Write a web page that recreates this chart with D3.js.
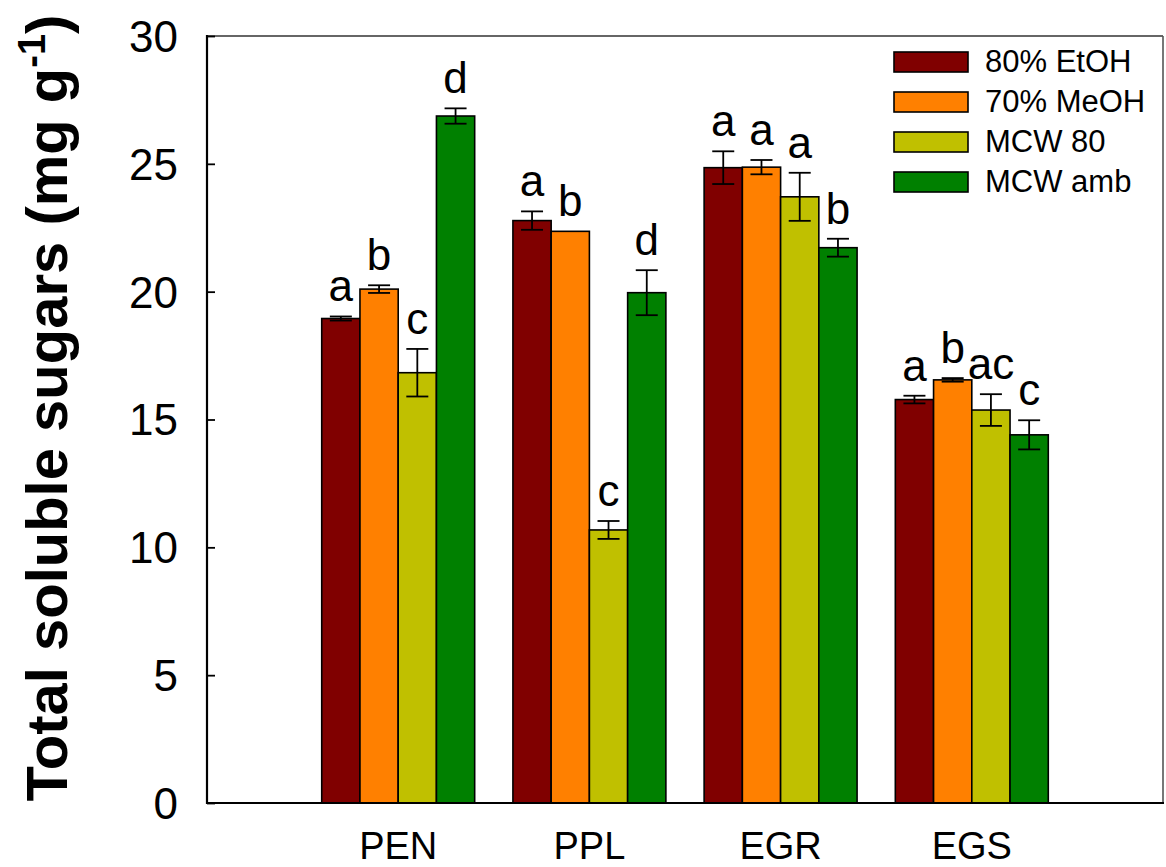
<!DOCTYPE html>
<html>
<head>
<meta charset="utf-8">
<script src="https://cdn.jsdelivr.net/npm/d3@7"></script>
<style>
  html, body { margin: 0; padding: 0; background: #fff; }
  svg { display: block; font-family: "Liberation Sans", Arial, sans-serif; }
</style>
</head>
<body>
<svg id="chart" width="1166" height="867"></svg>
<script>
// Sample sites along the x axis
const categories = ["PEN", "PPL", "EGR", "EGS"];
// Extraction methods (one bar per method within each site)
const methods = ["80% EtOH", "70% MeOH", "MCW 80", "MCW amb"];
const methodColors = ["#800000", "#FF8000", "#C0C000", "#008000"];

// Mean total soluble sugars (mg g-1), one array per method, ordered by site
const etoh80 = [18.95, 22.78, 24.85, 15.78];
const meoh70 = [20.10, 22.36, 24.87, 16.55];
const mcw80  = [16.83, 10.68, 23.71, 15.37];
const mcwAmb = [26.87, 19.96, 21.72, 14.40];
// Standard errors
const etoh80Err = [0.08, 0.36, 0.64, 0.15];
const meoh70Err = [0.15, 0.00, 0.28, 0.07];
const mcw80Err  = [0.93, 0.35, 0.94, 0.62];
const mcwAmbErr = [0.30, 0.88, 0.35, 0.57];
// Significance letters
const etoh80Sig = ["a", "a", "a", "a"];
const meoh70Sig = ["b", "b", "a", "b"];
const mcw80Sig  = ["c", "c", "a", "ac"];
const mcwAmbSig = ["d", "d", "b", "c"];

const yTicks = [0, 5, 10, 15, 20, 25, 30];

const seriesValues = [etoh80, meoh70, mcw80, mcwAmb];
const seriesErrors = [etoh80Err, meoh70Err, mcw80Err, mcwAmbErr];
const seriesSig = [etoh80Sig, meoh70Sig, mcw80Sig, mcwAmbSig];

const svg = d3.select("#chart");
const plot = { left: 207, right: 1163, top: 36, bottom: 803 };

// Sites sit at positions 1..4 of a 0..5 axis
const x = d3.scaleLinear().domain([0, categories.length + 1]).range([plot.left, plot.right]);
const y = d3.scaleLinear().domain([0, 30]).range([plot.bottom, plot.top]);
const groupWidth = (x(1) - x(0)) * 0.8;
const inner = d3.scaleBand().domain(d3.range(methods.length)).range([-groupWidth / 2, groupWidth / 2]).padding(0);

// Bars
const rows = [];
categories.forEach((c, i) => {
  methods.forEach((m, j) => {
    rows.push({ cat: i, method: j, value: seriesValues[j][i], err: seriesErrors[j][i], sig: seriesSig[j][i] });
  });
});

const g = svg.append("g");
g.selectAll("rect.bar").data(rows).enter().append("rect")
  .attr("class", "bar")
  .attr("x", d => x(d.cat + 1) + inner(d.method))
  .attr("width", inner.bandwidth())
  .attr("y", d => y(d.value))
  .attr("height", d => y(0) - y(d.value))
  .attr("fill", d => methodColors[d.method])
  .attr("stroke", "#000")
  .attr("stroke-width", 1.6);

// Error bars
const capHalf = 11;
const eb = g.selectAll("g.err").data(rows.filter(d => d.err > 0)).enter().append("g").attr("class", "err")
  .attr("stroke", "#000").attr("stroke-width", 1.8);
eb.append("line")
  .attr("x1", d => x(d.cat + 1) + inner(d.method) + inner.bandwidth() / 2)
  .attr("x2", d => x(d.cat + 1) + inner(d.method) + inner.bandwidth() / 2)
  .attr("y1", d => y(d.value + d.err)).attr("y2", d => y(d.value - d.err));
eb.append("line")
  .attr("x1", d => x(d.cat + 1) + inner(d.method) + inner.bandwidth() / 2 - capHalf)
  .attr("x2", d => x(d.cat + 1) + inner(d.method) + inner.bandwidth() / 2 + capHalf)
  .attr("y1", d => y(d.value + d.err)).attr("y2", d => y(d.value + d.err));
eb.append("line")
  .attr("x1", d => x(d.cat + 1) + inner(d.method) + inner.bandwidth() / 2 - capHalf)
  .attr("x2", d => x(d.cat + 1) + inner(d.method) + inner.bandwidth() / 2 + capHalf)
  .attr("y1", d => y(d.value - d.err)).attr("y2", d => y(d.value - d.err));

// Significance letters
g.selectAll("text.sig").data(rows).enter().append("text")
  .attr("class", "sig")
  .attr("x", d => x(d.cat + 1) + inner(d.method) + inner.bandwidth() / 2)
  .attr("y", d => y(d.value + d.err) - 15)
  .attr("text-anchor", "middle")
  .attr("font-size", 44)
  .attr("fill", "#000")
  .text(d => d.sig);

// Frame
svg.append("line").attr("x1", plot.left).attr("x2", plot.right).attr("y1", plot.top).attr("y2", plot.top)
  .attr("stroke", "#333").attr("stroke-width", 1.6);
svg.append("line").attr("x1", plot.right).attr("x2", plot.right).attr("y1", plot.top).attr("y2", plot.bottom)
  .attr("stroke", "#555").attr("stroke-width", 1.6);

// Y axis with inward ticks
const yAxis = d3.axisRight(y).tickValues(yTicks).tickSize(8).tickFormat("");
const ya = svg.append("g").attr("transform", `translate(${plot.left},0)`).call(yAxis);
ya.select(".domain").remove();
ya.selectAll(".tick line").attr("stroke", "#000").attr("stroke-width", 1.8);
svg.append("line").attr("x1", plot.left).attr("x2", plot.left).attr("y1", plot.top - 1).attr("y2", plot.bottom + 1)
  .attr("stroke", "#000").attr("stroke-width", 2.2);
svg.append("g").selectAll("text").data(yTicks).enter().append("text")
  .attr("x", 178).attr("y", d => y(d)).attr("dy", "0.36em")
  .attr("text-anchor", "end").attr("font-size", 44).attr("fill", "#000")
  .text(d => d);

// X axis baseline and category labels
svg.append("line").attr("x1", plot.left - 1).attr("x2", plot.right + 1).attr("y1", plot.bottom).attr("y2", plot.bottom)
  .attr("stroke", "#000").attr("stroke-width", 2.2);
svg.append("g").selectAll("text").data(categories).enter().append("text")
  .attr("x", (d, i) => x(i + 1)).attr("y", 859)
  .attr("text-anchor", "middle").attr("font-size", 38).attr("fill", "#000")
  .text(d => d);

// Y axis title
const title = svg.append("text")
  .attr("transform", "translate(67,408) rotate(-90)")
  .attr("text-anchor", "middle").attr("font-size", 58).attr("font-weight", "bold").attr("fill", "#000");
title.append("tspan").text("Total soluble sugars (mg g");
title.append("tspan").attr("font-size", 38).attr("dy", -22).text("-1");
title.append("tspan").attr("dy", 22).text(")");

// Legend
const legend = svg.append("g");
const li = legend.selectAll("g").data(methods).enter().append("g")
  .attr("transform", (d, i) => `translate(894,${52 + i * 40})`);
li.append("rect").attr("width", 74).attr("height", 20)
  .attr("fill", (d, i) => methodColors[i]).attr("stroke", "#000").attr("stroke-width", 1.6);
li.append("text").attr("x", 91).attr("y", 20).attr("font-size", 31).attr("fill", "#000").text(d => d);
</script>
</body>
</html>
